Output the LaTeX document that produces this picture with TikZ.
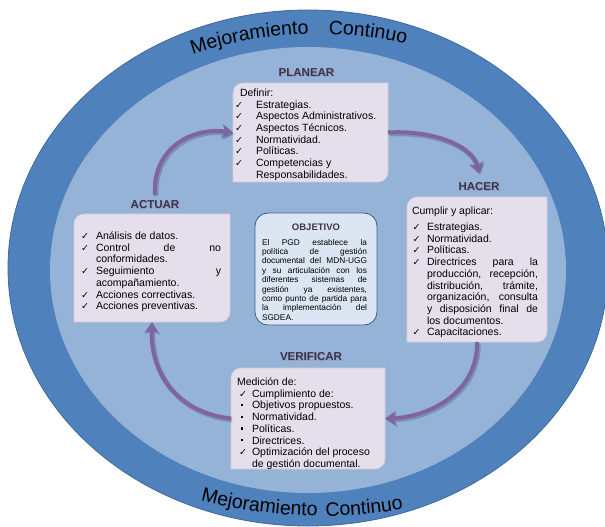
\documentclass[tikz,border=0pt]{standalone}
\usepackage{fontspec}
\setmainfont{Liberation Sans}
\newfontfamily\symfont{DejaVu Sans}
\usetikzlibrary{calc,decorations.text,arrows.meta}

\definecolor{ringblue}{HTML}{4F81BD}
\definecolor{ringedge}{HTML}{3E6A9E}
\definecolor{innerblue}{HTML}{95B3D7}
\definecolor{boxlilac}{HTML}{E5DFEC}
\definecolor{boxedge}{HTML}{D3CAE0}
\definecolor{objfill}{HTML}{DCE6F2}
\definecolor{objedge}{HTML}{3B5E8A}
\definecolor{arrowpurple}{HTML}{8064A2}
\definecolor{labelink}{HTML}{3F3151}

% fonts
\newcommand\ringfont{\fontsize{19.5bp}{20bp}\selectfont}
\newcommand\boxfont{\fontsize{10.5bp}{11.7bp}\selectfont}
\newcommand\objfont{\fontsize{8.3bp}{9.4bp}\selectfont}
% list markers
\newcommand\chk{{\symfont\fontsize{9.5bp}{9.5bp}\selectfont ✓}}
\newcommand\sqb{\raisebox{2.6bp}{\rule{2.3bp}{2.3bp}}}
% a list row: text indent, marker, text
\newcommand\mk[3]{\makebox[#1][l]{#2}#3}
% panel with rounded top-left and bottom-right corners, traced round a named node
\newcommand\lilacpanel[1]{%
  \path[panelpaint] ($(#1.north west)+(0bp,-10bp)$)
    arc[start angle=180,end angle=90,radius=10bp] -- (#1.north east)
    -- ($(#1.south east)+(0bp,10bp)$)
    arc[start angle=0,end angle=-90,radius=10bp] -- (#1.south west) -- cycle;}
% curved cycle arrow with a soft shadow
\newcommand\linkarrow[4]{%
  \draw[linkshadow] #1 .. controls #2 and #3 .. #4;
  \draw[cyclelink] #1 .. controls #2 and #3 .. #4;}

\begin{document}
\begin{tikzpicture}[x=1bp,y=-1bp,
  panelframe/.style={draw=none,inner sep=0pt,outer sep=0pt},
  panelpaint/.style={fill=boxlilac,draw=boxedge,line width=0.6bp},
  boxtext/.style={anchor=base west,inner sep=0pt,outer sep=0pt},
  steplabel/.style={font=\bfseries\fontsize{11.5bp}{12bp}\selectfont,text=labelink,inner sep=1bp},
  labelshade/.style={font=\bfseries\fontsize{11.5bp}{12bp}\selectfont,text=black!45,opacity=0.5,inner sep=1bp},
  cyclelink/.style={draw=arrowpurple,line width=4bp,-{Stealth[length=11bp,width=14bp,inset=3bp]}},
  linkshadow/.style={draw=black,opacity=0.18,line width=5bp,transform canvas={shift={(1.2bp,-1.5bp)}},-{Stealth[length=11bp,width=15bp,inset=3bp]}},
  ringword/.style={decorate,decoration={text along path,text={|\ringfont|#1},text align=center}}]

\useasboundingbox (0,0) rectangle (605,527);
\clip (0,0) rectangle (605,527);
\fill[white] (0,0) rectangle (605,527);

% rings
\fill[ringblue] (308,268) ellipse [x radius=300bp, y radius=258bp];
\draw[ringedge,line width=0.8bp] (308,268) ellipse [x radius=300bp, y radius=258bp];
\fill[innerblue] (308,270) ellipse [x radius=258bp, y radius=223bp];

% ring captions
\coordinate (topc) at (318,434);
\coordinate (botc) at (322,36);
\path[ringword={Mejoramiento}] ($(topc)+(114.8:400bp)$) arc[start angle=114.8,end angle=84.8,radius=400bp];
\path[ringword={Continuo}] ($(topc)+(97.9:400bp)$) arc[start angle=97.9,end angle=67.9,radius=400bp];
\path[ringword={Mejoramiento}] ($(botc)+(253.4:480bp)$) arc[start angle=253.4,end angle=271.4,radius=480bp];
\path[ringword={Continuo}] ($(botc)+(266.1:480bp)$) arc[start angle=266.1,end angle=284.1,radius=480bp];

% panels
\node[panelframe,minimum width=155bp,minimum height=99bp] (planbox) at (310.5,132.5) {};
\node[panelframe,minimum width=140bp,minimum height=145bp] (hacbox) at (477,269.5) {};
\node[panelframe,minimum width=156bp,minimum height=108bp] (actbox) at (152,268) {};
\node[panelframe,minimum width=154bp,minimum height=101bp] (verbox) at (308,418.5) {};
\lilacpanel{planbox}
\lilacpanel{hacbox}
\lilacpanel{actbox}
\lilacpanel{verbox}
\node[rounded corners=13bp,fill=objfill,draw=objedge,line width=0.8bp,minimum width=122bp,minimum height=112bp,inner sep=0pt] (objbox) at (316,269) {};

% step labels
\node[labelshade] (planshade) at (307.4,73.9) {PLANEAR};
\node[steplabel] (planlabel) at (306.5,73) {PLANEAR};
\node[labelshade] (hacshade) at (479.9,187.6) {HACER};
\node[steplabel] (haclabel) at (479,186.7) {HACER};
\node[labelshade] (actshade) at (155.9,205.9) {ACTUAR};
\node[steplabel] (actlabel) at (155,205) {ACTUAR};
\node[labelshade] (vershade) at (311.9,357.9) {VERIFICAR};
\node[steplabel] (verlabel) at (311,357) {VERIFICAR};

% panel texts
\node[boxtext] (plantext) at (235,96.5) {\parbox[t]{160bp}{\boxfont
  \hspace*{5bp}Definir:\\
  \mk{21bp}{\chk}{Estrategias.}\\
  \mk{21bp}{\chk}{Aspectos Administrativos.}\\
  \mk{21bp}{\chk}{Aspectos Técnicos.}\\
  \mk{21bp}{\chk}{Normatividad.}\\
  \mk{21bp}{\chk}{Políticas.}\\
  \mk{21bp}{\chk}{Competencias y}\\
  \hspace*{21bp}Responsabilidades.}};

\node[boxtext] (hactext) at (412,214.5) {\parbox[t]{160bp}{\boxfont
  Cumplir y aplicar:\\[4.3bp]
  \mk{15bp}{\hspace*{0.5bp}\chk}{Estrategias.}\\
  \mk{15bp}{\hspace*{0.5bp}\chk}{Normatividad.}\\
  \mk{15bp}{\hspace*{0.5bp}\chk}{Políticas.}\\
  \mk{15bp}{\hspace*{0.5bp}\chk}{\makebox[111bp][s]{Directrices para la}}\\
  \hspace*{15bp}\makebox[111bp][s]{producción, recepción,}\\
  \hspace*{15bp}\makebox[111bp][s]{distribución, trámite,}\\
  \hspace*{15bp}\makebox[111bp][s]{organización, consulta}\\
  \hspace*{15bp}\makebox[111bp][s]{y disposición final de}\\
  \hspace*{15bp}los documentos.\\
  \mk{15bp}{\hspace*{0.5bp}\chk}{Capacitaciones.}}};

\node[boxtext] (acttext) at (81,239.5) {\parbox[t]{160bp}{\boxfont
  \mk{15bp}{\chk}{Análisis de datos.}\\
  \mk{15bp}{\chk}{\makebox[125bp][s]{Control de no}}\\
  \hspace*{15bp}conformidades.\\
  \mk{15bp}{\chk}{\makebox[125bp][s]{Seguimiento y}}\\
  \hspace*{15bp}acompañamiento.\\
  \mk{15bp}{\chk}{Acciones correctivas.}\\
  \mk{15bp}{\chk}{Acciones preventivas.}}};

\node[boxtext] (vertext) at (237,385.5) {\parbox[t]{160bp}{\boxfont
  Medición de:\\
  \mk{15bp}{\hspace*{2bp}\chk}{Cumplimiento de:}\\
  \mk{15bp}{\hspace*{4bp}\sqb}{Objetivos propuestos.}\\
  \mk{15bp}{\hspace*{4bp}\sqb}{Normatividad.}\\
  \mk{15bp}{\hspace*{4bp}\sqb}{Políticas.}\\
  \mk{15bp}{\hspace*{4bp}\sqb}{Directrices.}\\
  \mk{15bp}{\hspace*{2bp}\chk}{Optimización del proceso}\\
  \hspace*{15bp}de gestión documental.}};

% objective
\node[font=\bfseries\fontsize{9.5bp}{10bp}\selectfont,text=labelink,inner sep=0pt] (objtitle) at (316,227) {OBJETIVO};
\node[boxtext] (objtext) at (262,245) {\parbox[t]{110bp}{\objfont
  \makebox[105bp][s]{El PGD establece la}\\
  \makebox[105bp][s]{política de gestión}\\
  \makebox[105bp][s]{documental del MDN-UGG}\\
  \makebox[105bp][s]{y su articulación con los}\\
  \makebox[105bp][s]{diferentes sistemas de}\\
  \makebox[105bp][s]{gestión ya existentes,}\\
  \makebox[105bp][s]{como punto de partida para}\\
  \makebox[105bp][s]{la implementación del}\\
  SGDEA.}};

% cycle arrows
\linkarrow{($(actlabel.north)+(0bp,5bp)$)}{(152,150)}{(190,127)}{(planbox.west)}
\linkarrow{(planbox.east)}{(432,130)}{(472,145)}{($(haclabel.north)+(0bp,8bp)$)}
\linkarrow{(hacbox.south)}{(478,392)}{(430,417)}{(verbox.east)}
\linkarrow{(verbox.west)}{(174,412)}{(150,370)}{(actbox.south)}
\end{tikzpicture}
\end{document}
